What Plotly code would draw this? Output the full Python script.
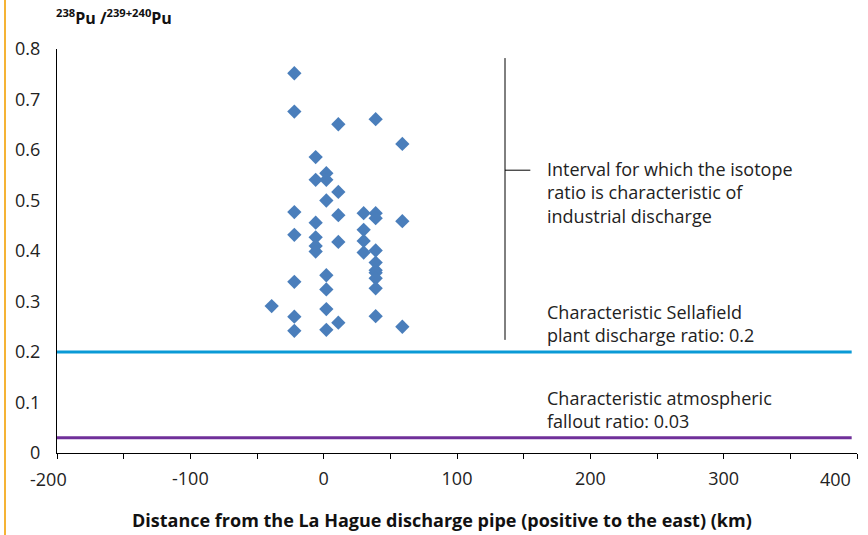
import plotly.graph_objects as go

# Sample distances (km) and isotope ratios
dist_km = [-22, -22, -22, -22, -22, -22, -22,
           -6, -6, -6, -6, -6, -6,
           2, 2, 2, 2, 2, 2, 2,
           11, 11, 11, 11, 11,
           30, 30, 30, 30,
           39, 39, 39, 39, 39, 39, 39, 39, 39, 39,
           59, 59, 59,
           -39]
ratio = [0.752, 0.676, 0.477, 0.432, 0.339, 0.270, 0.242,
         0.586, 0.541, 0.456, 0.427, 0.410, 0.399,
         0.554, 0.541, 0.500, 0.352, 0.324, 0.285, 0.244,
         0.651, 0.517, 0.471, 0.418, 0.258,
         0.475, 0.442, 0.420, 0.397,
         0.661, 0.475, 0.465, 0.401, 0.377, 0.362, 0.357, 0.346, 0.326, 0.271,
         0.612, 0.459, 0.250,
         0.291]

sellafield_ratio = 0.2
fallout_ratio = 0.03
interval_range = [0.224, 0.782]
ref_line_x = [-200, 396]

x_ticks = [-200, -100, 0, 100, 200, 300, 400]
x_tick_labels = ["-200", "-100", "0", "100", "200", "300", "400"]
y_ticks = [0, 0.1, 0.2, 0.3, 0.4, 0.5, 0.6, 0.7, 0.8]
y_tick_labels = ["0", "0.1", "0.2", "0.3", "0.4", "0.5", "0.6", "0.7", "0.8"]

FONT = "Open Sans"

fig = go.Figure()
fig.add_trace(go.Scatter(
    x=ref_line_x, y=[sellafield_ratio] * 2, mode="lines",
    line=dict(color="#0A9AD6", width=3), hoverinfo="skip"))
fig.add_trace(go.Scatter(
    x=ref_line_x, y=[fallout_ratio] * 2, mode="lines",
    line=dict(color="#70309A", width=3), hoverinfo="skip"))
fig.add_trace(go.Scatter(
    x=dist_km, y=ratio, mode="markers",
    marker=dict(symbol="diamond", size=11, color="#4A7EBB")))

# interval bracket
bx = 136
fig.add_shape(type="line", xref="x", yref="y", x0=bx, x1=bx,
              y0=interval_range[0], y1=interval_range[1],
              line=dict(color="black", width=1))
fig.add_shape(type="line", xref="x", yref="y", x0=bx, x1=155,
              y0=0.56, y1=0.56, line=dict(color="black", width=1))

# orange side rule
fig.add_shape(type="line", xref="paper", yref="paper",
              x0=-0.065, x1=-0.065, y0=-0.21, y1=1.125,
              line=dict(color="#F5B335", width=2))

txt_font = dict(family=FONT, size=18, color="#222")
fig.add_annotation(x=166, y=0.515, xref="x", yref="y", xanchor="left",
                   yanchor="middle", align="left", showarrow=False,
                   text="Interval for which the isotope<br>ratio is characteristic of<br>industrial discharge",
                   font=txt_font)
fig.add_annotation(x=166, y=0.257, xref="x", yref="y", xanchor="left",
                   yanchor="middle", align="left", showarrow=False,
                   text="Characteristic Sellafield<br>plant discharge ratio: 0.2",
                   font=txt_font)
fig.add_annotation(x=166, y=0.086, xref="x", yref="y", xanchor="left",
                   yanchor="middle", align="left", showarrow=False,
                   text="Characteristic atmospheric<br>fallout ratio: 0.03",
                   font=txt_font)

# edge tick labels (pulled inward as in the reference)
fig.add_annotation(x=x_ticks[0], y=0, xref="x", yref="paper", xanchor="center",
                   yanchor="top", xshift=-9, yshift=-12, showarrow=False,
                   text=x_tick_labels[0], font=txt_font)
fig.add_annotation(x=x_ticks[-1], y=0, xref="x", yref="paper", xanchor="right",
                   yanchor="top", xshift=-4, yshift=-12, showarrow=False,
                   text=x_tick_labels[-1], font=txt_font)

fig.add_annotation(x=-0.004, y=1.08, xref="paper", yref="paper", xanchor="left",
                   yanchor="middle", showarrow=False,
                   text="<b><sup>238</sup>Pu /<sup>239+240</sup>Pu</b>",
                   font=dict(family=FONT, size=16, color="#111"))
fig.add_annotation(x=0.481, y=-0.166, xref="paper", yref="paper", xanchor="center",
                   yanchor="middle", showarrow=False,
                   text="<b>Distance from the La Hague discharge pipe (positive to the east) (km)</b>",
                   font=dict(family=FONT, size=18, color="#111"))

fig.update_layout(
    width=868, height=535,
    margin=dict(l=57, r=11, t=49, b=82, autoexpand=False),
    paper_bgcolor="white", plot_bgcolor="white",
    showlegend=False,
    font=dict(family=FONT, size=18, color="#222"),
    xaxis=dict(range=[-200, 400], tickvals=x_ticks,
               ticktext=[""] + x_tick_labels[1:-1] + [""],
               showgrid=False, zeroline=False,
               showline=True, linecolor="black", linewidth=1,
               ticks="outside", ticklen=5, tickcolor="black", ticklabelstandoff=4,
               minor=dict(dtick=50, ticks="outside", ticklen=5, tickcolor="black"),
               tickfont=dict(size=18)),
    yaxis=dict(range=[0, 0.8], tickvals=y_ticks, ticktext=y_tick_labels,
               showgrid=False, zeroline=False,
               showline=True, linecolor="black", linewidth=1, ticks="",
               ticklabelstandoff=12, tickfont=dict(size=18)),
)

fig.write_html("out.html", config={"displayModeBar": False},
               post_script="document.body.style.margin='0px';")
